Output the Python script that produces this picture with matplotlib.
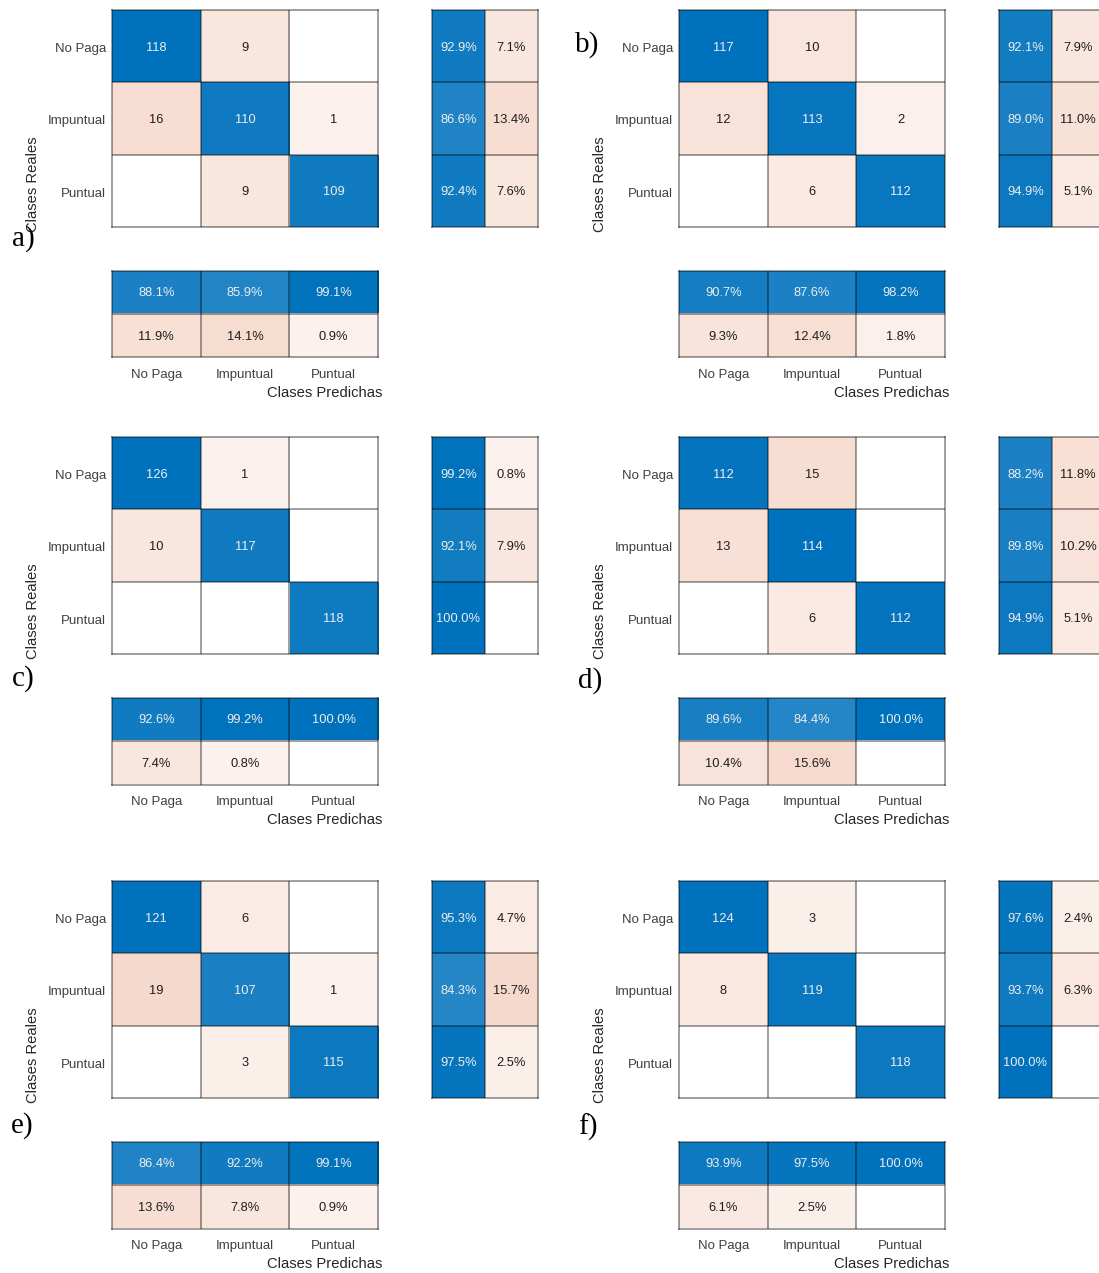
import numpy as np
import matplotlib
matplotlib.use("Agg")
import matplotlib.pyplot as plt
from matplotlib.colors import LinearSegmentedColormap, Normalize, to_rgb

# ---- data -------------------------------------------------------------
classes = ["No Paga", "Impuntual", "Puntual"]
panel_labels = ["a)", "b)", "c)", "d)", "e)", "f)"]

cm_a = [[118, 9, 0], [16, 110, 1], [0, 9, 109]]
cm_b = [[117, 10, 0], [12, 113, 2], [0, 6, 112]]
cm_c = [[126, 1, 0], [10, 117, 0], [0, 0, 118]]
cm_d = [[112, 15, 0], [13, 114, 0], [0, 6, 112]]
cm_e = [[121, 6, 0], [19, 107, 1], [0, 3, 115]]
cm_f = [[124, 3, 0], [8, 119, 0], [0, 0, 118]]
matrices = [cm_a, cm_b, cm_c, cm_d, cm_e, cm_f]

# ---- style ------------------------------------------------------------
W, H = 1099, 1273
plt.rcParams["font.family"] = ["Liberation Sans", "DejaVu Sans"]
BLUE = "#0072BD"
RED = "#D95319"
TINT = 0.07  # lightest shade used for any non-zero cell


def tinted_cmap(name, color):
    c = np.array(to_rgb(color))
    light = (1 - TINT) * np.ones(3) + TINT * c
    cmap = LinearSegmentedColormap.from_list(name, [tuple(light), tuple(c)])
    return cmap.with_extremes(bad=(1, 1, 1, 0))


cmap_blue = tinted_cmap("tb", BLUE)
cmap_red = tinted_cmap("tr", RED)
GRID = (0, 0, 0, 0.48)
TICK_COLOR = "#404040"
CELL_FS = 9.3
TICK_FS = 9.5
TITLE_FS = 10.6

fig = plt.figure(figsize=(W / 100, H / 100), dpi=100)


def px_axes(left, top, width, height):
    return fig.add_axes([left / W, 1 - (top + height) / H, width / W, height / H])


def draw_grid(ax, values, is_diag, vmax, fmt):
    values = np.asarray(values, dtype=float)
    nr, nc = values.shape
    norm = Normalize(0, vmax)
    zero = values <= 0
    ax.set_facecolor("white")
    ax.imshow(np.ma.masked_where(~is_diag | zero, values), cmap=cmap_blue,
              norm=norm, aspect="auto", interpolation="nearest")
    ax.imshow(np.ma.masked_where(is_diag | zero, values), cmap=cmap_red,
              norm=norm, aspect="auto", interpolation="nearest")
    for r in range(nr):
        for c in range(nc):
            v = values[r, c]
            if v <= 0:
                continue
            color = "#EDEDED" if (is_diag[r, c] and v / vmax > 0.5) else "#1E1E1E"
            ax.text(c, r + 0.02, fmt(v), ha="center", va="center",
                    fontsize=CELL_FS, color=color)
    for x in np.arange(0.5, nc - 0.5, 1):
        ax.axvline(x, color=GRID, lw=1.1)
    for y in np.arange(0.5, nr - 0.5, 1):
        ax.axhline(y, color=GRID, lw=1.1)
    for s in ax.spines.values():
        s.set_edgecolor(GRID)
        s.set_linewidth(1.1)
    ax.set_xlim(-0.5, nc - 0.5)
    ax.set_ylim(nr - 0.5, -0.5)
    ax.set_xticks([])
    ax.set_yticks([])


pct = lambda v: f"{v:.1f}%"
cnt = lambda v: f"{int(round(v))}"

col_dx = [0, 567]
row_dy = [0, 427, 871]
# left x and baseline y of each panel letter
letter_pos = [(12, 246), (575, 52), (12, 686), (578, 688), (11, 1133), (578, 1135)]

for i, cm in enumerate(matrices):
    cm = np.asarray(cm, dtype=float)
    dx = col_dx[i % 2]
    dy = row_dy[i // 2]

    # main confusion matrix
    ax = px_axes(112 + dx, 10 + dy, 266, 217)
    draw_grid(ax, cm, np.eye(3, dtype=bool), cm.max(), cnt)
    ax.set_yticks(np.arange(3) + 0.02)
    ax.set_yticklabels(classes)
    ax.tick_params(axis="y", length=0, pad=4.3, labelsize=TICK_FS,
                   labelcolor=TICK_COLOR)

    # row summary (recall / miss rate)
    row_tot = cm.sum(axis=1)
    row_ok = np.round(np.diag(cm) / row_tot * 100, 1)
    row_sum = np.column_stack([row_ok, np.round(100 - row_ok, 1)])
    is_d = np.zeros((3, 2), dtype=bool)
    is_d[:, 0] = True
    axr = px_axes(432 + dx, 10 + dy, 105.5, 217)
    draw_grid(axr, row_sum, is_d, 100.0, pct)

    # column summary (precision / false discovery rate)
    col_tot = cm.sum(axis=0)
    col_ok = np.round(np.diag(cm) / col_tot * 100, 1)
    col_sum = np.vstack([col_ok, np.round(100 - col_ok, 1)])
    is_d = np.zeros((2, 3), dtype=bool)
    is_d[0, :] = True
    axc = px_axes(112 + dx, 271 + dy, 266, 86.5)
    draw_grid(axc, col_sum, is_d, 100.0, pct)
    axc.set_xticks(range(3))
    axc.set_xticklabels(classes)
    axc.tick_params(axis="x", length=0, pad=8.5, labelsize=TICK_FS,
                    labelcolor=TICK_COLOR)

    # axis titles
    fig.text((382 + dx) / W, 1 - (393 + dy) / H, "Clases Predichas",
             ha="right", va="center", fontsize=TITLE_FS, color="#262626")
    fig.text((33 + dx) / W, 1 - (184 + dy) / H, "Clases Reales",
             ha="center", va="center", rotation=90, fontsize=TITLE_FS,
             color="#262626")

    # panel letter
    lx, ly = letter_pos[i]
    fig.text(lx / W, 1 - ly / H, panel_labels[i], ha="left", va="baseline",
             fontsize=21, family=["Liberation Serif", "DejaVu Serif"],
             color="black")

fig.savefig("out.png", dpi=100, facecolor="white")
